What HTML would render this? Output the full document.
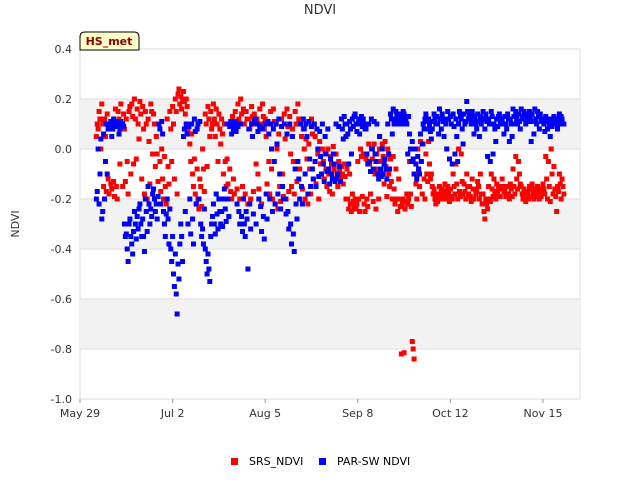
<!DOCTYPE html>
<html><head><meta charset="utf-8"><style>
body{margin:0;background:#fff;}
svg{display:block;font-family:"DejaVu Sans","Liberation Sans",sans-serif;}
</style></head><body>
<svg id="chart" width="640" height="480">
<text x="320" y="14" text-anchor="middle" font-size="13" fill="#333">NDVI</text>
<text x="19" y="224" text-anchor="middle" font-size="11" fill="#333" transform="rotate(-90 19 224)">NDVI</text>
<g id="plot"></g>
<g id="ticks"></g>
<g id="marks"></g>
<g>
<path d="M80,50 L80,37 Q80,32 85,32 L134,32 Q139,32 139,37 L139,50 Z" fill="#ffffc8" stroke="#000" stroke-width="1"/>
<text x="109" y="45" text-anchor="middle" font-size="11" font-weight="bold" fill="#8b0000">HS_met</text>
</g>
<g>
<g><rect x="231" y="458" width="7" height="7" fill="#ff0000"/><text x="249" y="465" font-size="11" fill="#000">SRS_NDVI</text></g>
<g><rect x="319" y="458" width="7" height="7" fill="#0000ff"/><text x="337" y="465" font-size="11" fill="#000">PAR-SW NDVI</text></g>
</g>
</svg>
<script>
const yTicks=[0.4,0.2,0.0,-0.2,-0.4,-0.6,-0.8,-1.0];
const yTickLabels=["0.4","0.2","0.0","-0.2","-0.4","-0.6","-0.8","-1.0"];
const xTickDays=[0,34,68,102,136,170];
const xTickLabels=["May 29","Jul 2","Aug 5","Sep 8","Oct 12","Nov 15"];
const firstDay=6;
const srsVals=[
[0.05,0.1,0.08],[0.15,0.12,0.0],[0.18,0.1,-0.15],[0.12,0.05,-0.17],[0.14,-0.12,-0.18],[0.1,-0.14,-0.16],[0.08,-0.13,-0.19],[0.16,-0.15,-0.2],[0.15,0.12,-0.06],[0.18,0.1,-0.15],
[0.14,0.08,-0.13],[0.12,-0.05,-0.18],[0.15,0.17,-0.1],[0.18,0.13,-0.06],[0.2,0.12,-0.04],[0.16,0.1,0.04],[0.19,0.14,-0.12],[0.17,0.08,-0.18],[0.15,0.1,-0.2],[0.12,0.03,-0.14],
[0.18,0.15,-0.02],[0.14,0.1,-0.07],[0.05,-0.02,-0.13],[0.1,-0.05,-0.17],[0.0,-0.12,-0.2],[-0.03,-0.15,-0.22],[0.12,-0.07,-0.14],[0.15,0.08,-0.05],[0.17,0.1,-0.12],[0.2,0.15,-0.18],
[0.22,0.24,0.18],[0.21,0.16,0.2],[0.23,0.19,0.14],[0.2,0.17,0.08],[0.1,0.02,-0.05],[0.06,-0.1,-0.15],[-0.04,-0.18,-0.22],[-0.08,-0.2,-0.24],[-0.12,-0.15,-0.23],[0.0,-0.08,-0.17],
[0.14,0.1,-0.07],[0.17,0.12,0.05],[0.15,0.08,0.1],[0.18,0.12,0.05],[0.16,0.1,-0.05],[0.14,0.08,0.02],[0.12,0.06,-0.1],[0.1,-0.05,-0.15],[-0.04,-0.14,-0.2],[-0.08,-0.17,-0.2],
[0.13,-0.12,-0.18],[0.15,0.1,-0.16],[0.18,0.12,-0.2],[0.2,0.14,-0.15],[0.16,0.1,-0.18],[0.15,0.12,-0.22],[0.12,0.08,-0.2],[0.17,0.13,-0.17],[0.14,0.1,-0.06],[0.12,-0.1,-0.16],
[0.16,0.1,-0.22],[0.18,0.13,0.08],[0.12,0.05,-0.14],[0.1,-0.05,-0.18],[0.15,-0.08,-0.2],[0.16,0.11,-0.22],[0.1,0.0,-0.24],[0.06,-0.15,-0.21],[0.12,-0.1,-0.19],[0.14,0.04,-0.2],
[0.16,0.09,-0.17],[0.13,-0.02,-0.15],[0.08,-0.05,-0.18],[0.15,0.1,-0.13],[0.18,0.12,-0.08],[0.1,0.05,-0.16],[0.08,0.0,-0.2],[0.04,-0.04,-0.22],[0.02,-0.08,-0.18],[0.12,0.06,-0.12],
[0.1,0.05,-0.14],[0.08,-0.02,-0.2],[0.03,-0.06,-0.1],[0.0,-0.05,-0.12],[-0.02,-0.08,-0.15],[0.0,-0.1,-0.17],[-0.03,-0.06,-0.18],[0.01,-0.08,-0.12],[-0.02,-0.1,-0.15],[-0.05,-0.08,-0.12],
[-0.07,-0.1,-0.14],[-0.06,-0.11,-0.2],[-0.08,-0.2,-0.24],[-0.1,-0.22,-0.25],[-0.18,-0.21,-0.23],[-0.2,-0.24,-0.22],[-0.05,-0.2,-0.25],[0.0,-0.03,-0.19],[-0.02,-0.22,-0.25],[-0.04,-0.2,-0.23],
[0.02,-0.06,-0.18],[0.0,-0.04,-0.21],[0.02,-0.1,-0.24],[-0.02,-0.08,-0.2],[0.0,-0.05,-0.1],[0.02,-0.03,-0.14],[0.03,-0.07,-0.19],[0.0,-0.1,-0.15],[-0.04,-0.13,-0.2],[-0.03,-0.16,-0.22],
[-0.08,-0.2,-0.25],[-0.12,-0.2,-0.23],[-0.82,-0.22,-0.2],[-0.815,-0.24,-0.21],[-0.18,-0.22,-0.2],[-0.05,-0.18,-0.23],[-0.77,-0.8,-0.84],[-0.1,-0.14,-0.2],[0.0,-0.08,-0.15],[0.03,-0.05,-0.18],
[0.02,-0.12,-0.2],[-0.02,-0.1,-0.13],[0.03,-0.06,-0.12],[-0.1,-0.15,-0.18],[-0.16,-0.2,-0.22],[-0.18,-0.21,-0.2],[-0.15,-0.19,-0.17],[-0.16,-0.2,-0.18],[-0.14,-0.17,-0.2],[-0.15,-0.18,-0.21],
[-0.16,-0.19,-0.2],[-0.1,-0.15,-0.18],[-0.06,-0.14,-0.2],[0.0,-0.17,-0.19],[-0.02,-0.13,-0.18],[-0.14,-0.17,-0.2],[-0.1,-0.15,-0.18],[-0.15,-0.19,-0.21],[-0.12,-0.16,-0.2],[-0.16,-0.18,-0.17],
[-0.13,-0.15,-0.2],[-0.1,-0.18,-0.22],[-0.18,-0.25,-0.28],[-0.2,-0.22,-0.24],[-0.15,-0.2,-0.21],[-0.1,-0.16,-0.19],[-0.12,-0.17,-0.2],[-0.14,-0.18,-0.16],[-0.16,-0.19,-0.15],[-0.12,-0.15,-0.17],
[-0.16,-0.19,-0.18],[-0.15,-0.18,-0.2],[-0.14,-0.16,-0.19],[-0.08,-0.15,-0.18],[-0.03,-0.12,-0.16],[-0.05,-0.1,-0.14],[-0.15,-0.18,-0.2],[-0.16,-0.19,-0.21],[-0.17,-0.18,-0.2],[-0.15,-0.19,-0.16],
[-0.14,-0.18,-0.2],[-0.16,-0.17,-0.19],[-0.15,-0.18,-0.2],[-0.17,-0.19,-0.16],[-0.14,-0.16,-0.18],[-0.03,-0.12,-0.2],[-0.05,-0.15,-0.21],[0.0,-0.1,-0.18],[-0.07,-0.16,-0.19],[-0.25,-0.15,-0.17],
[-0.1,-0.14,-0.2],[-0.12,-0.15,-0.18]];
const parVals=[
[-0.2,-0.17,0.0],[-0.22,-0.1,0.04],[-0.28,-0.25,0.06],[-0.2,-0.05,0.1],[-0.1,0.08,0.1],[0.1,0.11,0.05],[0.08,0.12,0.1],[0.1,0.09,0.11],[0.1,0.06,0.08],[0.11,0.1,0.1],
[0.09,-0.3,-0.35],[-0.34,-0.4,-0.45],[-0.3,-0.28,-0.35],[-0.38,-0.42,-0.33],[-0.25,-0.3,-0.36],[-0.27,-0.32,-0.24],[-0.22,-0.3,-0.35],[-0.28,-0.35,-0.41],[-0.2,-0.25,-0.33],[-0.15,-0.22,-0.3],
[-0.24,-0.27,-0.18],[-0.16,-0.2,-0.25],[-0.22,-0.28,-0.19],[0.1,0.08,-0.22],[0.11,0.06,-0.25],[-0.3,-0.35,-0.26],[-0.2,-0.28,-0.38],[-0.24,-0.4,-0.45],[-0.35,-0.5,-0.55],[-0.42,-0.58,-0.66],
[-0.46,-0.52,-0.38],[-0.3,-0.35,-0.45],[0.05,0.08,-0.25],[0.1,0.06,-0.3],[0.09,-0.2,-0.34],[0.1,-0.28,-0.38],[0.12,0.07,-0.22],[0.08,0.1,-0.2],[0.11,-0.3,-0.35],[-0.32,-0.38,-0.24],
[-0.4,-0.45,-0.5],[-0.42,-0.48,-0.53],[-0.35,-0.3,-0.27],[-0.22,-0.3,-0.34],[-0.18,-0.26,-0.32],[-0.2,-0.25,-0.3],[-0.25,-0.31,-0.2],[-0.16,-0.24,-0.29],[0.1,-0.2,-0.27],[0.09,0.11,0.06],
[0.1,0.08,0.1],[0.11,0.07,-0.22],[0.09,-0.25,-0.3],[0.1,-0.27,-0.33],[-0.2,-0.3,-0.35],[-0.25,-0.28,-0.48],[0.08,-0.22,-0.32],[0.1,0.05,-0.26],[0.11,0.12,-0.3],[0.1,0.07,-0.2],
[0.09,-0.23,-0.33],[0.08,-0.27,-0.36],[0.1,-0.18,-0.28],[0.11,0.06,-0.2],[0.1,0.0,-0.25],[0.08,-0.05,-0.22],[0.1,0.02,-0.18],[0.12,-0.1,-0.24],[0.09,-0.15,-0.2],[0.1,-0.2,-0.26],
[0.06,-0.25,-0.32],[0.1,-0.3,-0.38],[0.05,-0.34,-0.41],[-0.08,-0.22,-0.28],[-0.05,-0.12,-0.2],[0.1,-0.15,-0.22],[0.12,0.08,-0.1],[0.1,0.05,-0.18],[0.11,-0.04,-0.15],[0.09,-0.08,-0.12],
[0.1,-0.05,-0.15],[0.08,0.0,-0.11],[0.07,-0.03,-0.1],[0.1,-0.06,-0.13],[0.05,-0.02,-0.09],[0.08,-0.08,-0.14],[-0.04,-0.1,-0.12],[-0.02,-0.06,-0.13],[0.1,-0.12,-0.1],[0.09,-0.07,-0.13],
[0.12,0.08,0.04],[0.13,0.1,0.05],[0.1,0.06,-0.06],[0.11,0.08,-0.02],[0.12,0.09,0.13],[0.14,0.1,0.07],[0.1,0.12,0.06],[0.11,0.13,0.09],[0.12,0.1,0.08],[0.08,-0.02,-0.06],
[0.1,-0.05,-0.09],[0.12,0.0,-0.08],[0.11,-0.02,-0.05],[0.1,-0.1,-0.12],[0.05,-0.08,-0.11],[0.0,-0.1,-0.06],[-0.04,-0.08,-0.12],[0.1,-0.02,-0.08],[0.14,0.12,0.06],[0.16,0.1,0.12],
[0.15,0.13,0.1],[0.11,0.13,0.14],[0.12,0.1,0.15],[0.14,0.1,0.12],[0.1,-0.02,0.13],[0.06,0.0,-0.05],[0.03,-0.04,-0.1],[0.0,-0.06,-0.12],[-0.03,-0.08,-0.1],[0.06,-0.05,0.02],
[0.1,0.08,0.12],[0.14,0.11,0.08],[0.12,0.1,0.07],[0.04,0.08,0.11],[0.14,0.12,0.1],[0.13,0.1,0.06],[0.16,0.12,0.08],[0.14,0.11,0.05],[0.12,0.1,0.0],[0.15,0.12,-0.04],
[0.13,0.1,-0.06],[0.14,0.09,-0.02],[0.12,0.05,-0.05],[0.1,0.15,0.13],[0.12,0.08,0.02],[0.14,0.1,0.11],[0.19,0.15,0.12],[0.14,0.12,0.1],[0.15,0.13,0.06],[0.12,0.1,0.08],
[0.14,0.11,0.05],[0.13,0.1,0.12],[0.15,0.12,0.08],[0.14,0.11,-0.03],[0.12,0.1,-0.05],[0.15,0.13,-0.02],[0.1,0.08,0.03],[0.12,0.09,0.13],[0.14,0.11,0.1],[0.12,0.1,0.06],
[0.13,0.1,0.08],[0.14,0.12,0.03],[0.12,0.1,0.05],[0.16,0.13,0.1],[0.15,0.12,0.1],[0.14,0.11,0.08],[0.16,0.13,0.12],[0.15,0.12,0.1],[0.14,0.13,0.11],[0.15,0.12,0.03],
[0.14,0.11,0.06],[0.16,0.12,0.1],[0.15,0.13,0.08],[0.14,0.11,0.12],[0.12,0.1,0.07],[0.13,0.11,0.08],[0.12,0.1,0.05],[0.11,0.09,0.12],[0.13,0.1,0.12],[0.12,0.08,0.1],
[0.14,0.11,0.13],[0.12,0.1,0.1]];

const NS="http://www.w3.org/2000/svg";
const L=80,R=580,T=49,B=399,yMax=0.4,yMin=-1.0,pxPerDay=(543-80)/170;
function xs(d){return L+d*pxPerDay;}
function ys(v){return T+(yMax-v)/(yMax-yMin)*(B-T);}
function mk(tag,attrs,parent){const e=document.createElementNS(NS,tag);for(const k in attrs)e.setAttribute(k,attrs[k]);parent.appendChild(e);return e;}
const plot=document.getElementById('plot'),ticks=document.getElementById('ticks'),marks=document.getElementById('marks');
const bg=mk('rect',{x:L,y:T,width:R-L,height:B-T,fill:'#fff',stroke:'#ddd'},plot);


for(let i=0;i<yTicks.length-1;i++){
  if(i%2===1){
    const band=mk('rect',{x:L,y:ys(yTicks[i]),width:R-L,height:ys(yTicks[i+1])-ys(yTicks[i]),fill:'#f2f2f2'},plot);
    
    
  }
}
yTicks.forEach((v,i)=>{
  const g=mk('line',{x1:L,x2:R,y1:ys(v),y2:ys(v),stroke:'#ddd'},plot);
  
  
  const t=mk('text',{x:L-8,y:ys(v)+4,'text-anchor':'end','font-size':11,fill:'#333'},ticks);
  t.textContent=yTickLabels[i];
  
  
});
xTickDays.forEach((d,i)=>{
  const t=mk('text',{x:xs(d),y:B+18,'text-anchor':'middle','font-size':11,fill:'#333'},ticks);
  t.textContent=xTickLabels[i];
  
  
  const tk=mk('line',{x1:xs(d),x2:xs(d),y1:B,y2:B+4,stroke:'#999'},ticks);
  
  
});
const offs=[0.0,0.33,0.66];
function drawSeries(vals,color,name){
  vals.forEach((arr,i)=>{
    arr.forEach((v,j)=>{
      const d=firstDay+i+offs[j%3];
      const r=mk('rect',{x:xs(d)-2.5,y:ys(v)-2.5,width:5,height:5,fill:color},marks);
      
      
    });
  });
}
drawSeries(srsVals,'#ff0000','srs-ndvi-point');
drawSeries(parVals,'#0000ff','par-sw-ndvi-point');
</script>
</body></html>
